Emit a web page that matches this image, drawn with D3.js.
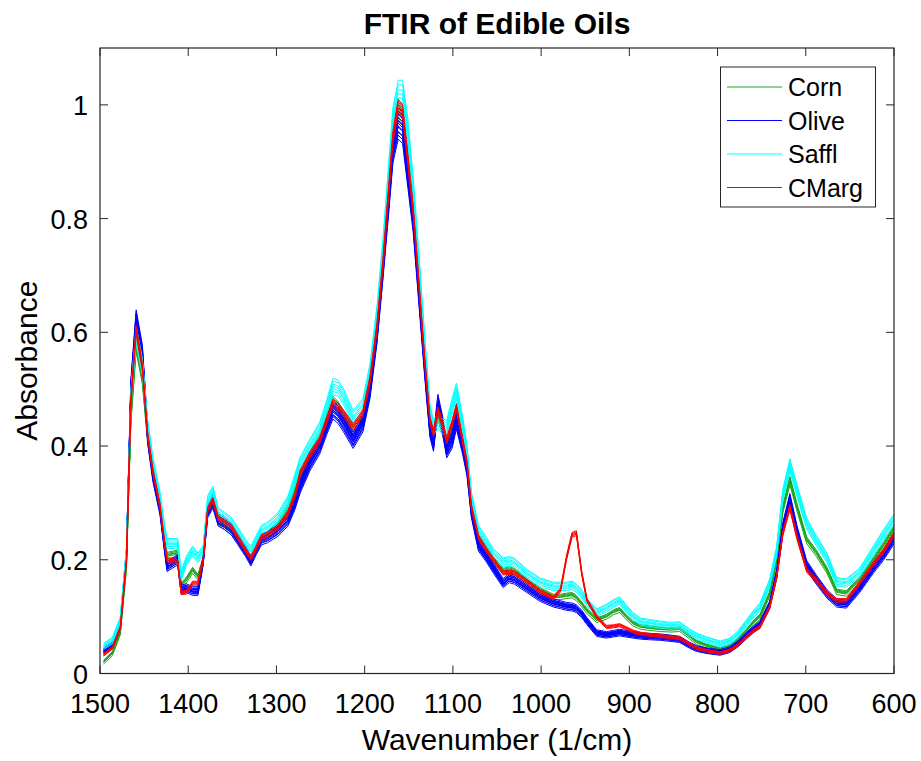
<!DOCTYPE html>
<html>
<head>
<meta charset="utf-8">
<script src="https://cdn.jsdelivr.net/npm/d3@7"></script>
<style>
  html, body { margin: 0; padding: 0; background: #fff; }
  svg { display: block; font-family: "Liberation Sans", Arial, Helvetica, sans-serif; }
</style>
</head>
<body>
<div id="chart"></div>
<script>
// FTIR spectra of edible oils, MATLAB-style line plot.
var wavenumbers = [1496, 1486, 1477, 1470, 1465, 1459, 1452, 1446, 1440, 1432, 1427, 1424, 1412, 1408, 1402, 1395,
  1389, 1383, 1378, 1372, 1366, 1359, 1351, 1344, 1335, 1329, 1323, 1317, 1310, 1298, 1287, 1279, 1273, 1262, 1251,
  1243, 1236, 1230, 1224, 1213, 1202, 1194, 1186, 1179, 1173, 1168, 1162, 1157, 1151, 1145, 1140, 1132, 1126, 1122,
  1117, 1112, 1107, 1101, 1096, 1089, 1084, 1079, 1071, 1062, 1054, 1043, 1036, 1030, 1016, 1001, 986, 978, 971, 965,
  960, 954, 948, 937, 926, 918, 911, 904, 896, 887, 877, 865, 853, 843, 832, 824, 812, 797, 786, 777, 767, 759, 752,
  741, 733, 726, 718, 710, 699, 688, 676, 665, 654, 639, 623, 612, 600];

var cornMean = [0.020, 0.035, 0.072, 0.190, 0.450, 0.578, 0.520, 0.415, 0.350, 0.290, 0.235, 0.208, 0.212, 0.155, 0.165, 0.182,
  0.170, 0.200, 0.285, 0.305, 0.268, 0.260, 0.250, 0.235, 0.215, 0.202, 0.220, 0.238, 0.245, 0.262, 0.290, 0.325, 0.350, 0.385, 0.415,
  0.450, 0.480, 0.470, 0.455, 0.428, 0.450, 0.510, 0.610, 0.730, 0.850, 0.950, 0.995, 0.985, 0.910, 0.820, 0.720, 0.560, 0.440, 0.420,
  0.455, 0.430, 0.395, 0.430, 0.460, 0.410, 0.370, 0.300, 0.240, 0.220, 0.200, 0.180, 0.183, 0.180, 0.163, 0.146, 0.135, 0.135, 0.137, 0.138,
  0.133, 0.122, 0.110, 0.094, 0.100, 0.108, 0.112, 0.100, 0.088, 0.082, 0.080, 0.078, 0.077, 0.078, 0.065, 0.055, 0.048, 0.042, 0.048, 0.058, 0.075, 0.090, 0.100,
  0.140, 0.200, 0.290, 0.340, 0.293, 0.235, 0.212, 0.182, 0.144, 0.141, 0.165, 0.200, 0.225, 0.255];

var oliveMean = [0.040, 0.050, 0.085, 0.210, 0.500, 0.620, 0.560, 0.420, 0.350, 0.290, 0.225, 0.188, 0.200, 0.148, 0.150, 0.145,
  0.145, 0.200, 0.285, 0.302, 0.270, 0.264, 0.254, 0.237, 0.215, 0.198, 0.218, 0.236, 0.240, 0.252, 0.270, 0.300, 0.330, 0.370, 0.400,
  0.435, 0.463, 0.455, 0.440, 0.410, 0.440, 0.500, 0.600, 0.720, 0.830, 0.925, 0.968, 0.960, 0.880, 0.800, 0.700, 0.540, 0.430, 0.405,
  0.475, 0.440, 0.393, 0.410, 0.445, 0.400, 0.360, 0.285, 0.225, 0.205, 0.185, 0.159, 0.168, 0.165, 0.150, 0.134, 0.124, 0.121, 0.118, 0.117,
  0.114, 0.105, 0.092, 0.071, 0.068, 0.070, 0.072, 0.070, 0.068, 0.066, 0.065, 0.064, 0.062, 0.060, 0.050, 0.044, 0.040, 0.037, 0.042, 0.052, 0.067, 0.078, 0.086,
  0.120, 0.175, 0.255, 0.305, 0.250, 0.190, 0.165, 0.140, 0.124, 0.122, 0.150, 0.186, 0.208, 0.238];

var safflMean = [0.045, 0.055, 0.090, 0.210, 0.480, 0.590, 0.535, 0.430, 0.365, 0.305, 0.250, 0.225, 0.225, 0.168, 0.195, 0.212,
  0.200, 0.213, 0.298, 0.315, 0.278, 0.270, 0.261, 0.245, 0.223, 0.212, 0.230, 0.248, 0.253, 0.270, 0.298, 0.336, 0.365, 0.396, 0.425,
  0.463, 0.500, 0.497, 0.482, 0.445, 0.465, 0.525, 0.625, 0.745, 0.865, 0.965, 1.012, 1.012, 0.945, 0.845, 0.745, 0.575, 0.455, 0.428,
  0.440, 0.430, 0.428, 0.465, 0.492, 0.435, 0.385, 0.305, 0.247, 0.227, 0.207, 0.192, 0.194, 0.191, 0.172, 0.157, 0.150, 0.150, 0.150, 0.152,
  0.147, 0.137, 0.122, 0.104, 0.112, 0.120, 0.125, 0.112, 0.098, 0.088, 0.086, 0.083, 0.081, 0.082, 0.070, 0.063, 0.056, 0.049, 0.054, 0.066, 0.086, 0.102, 0.114,
  0.155, 0.212, 0.310, 0.362, 0.318, 0.260, 0.230, 0.200, 0.158, 0.156, 0.174, 0.213, 0.240, 0.267];

var cmargMean = [0.033, 0.045, 0.080, 0.200, 0.480, 0.605, 0.540, 0.420, 0.355, 0.295, 0.232, 0.200, 0.197, 0.142, 0.143, 0.159,
  0.159, 0.200, 0.288, 0.305, 0.273, 0.267, 0.258, 0.240, 0.217, 0.203, 0.220, 0.240, 0.244, 0.258, 0.282, 0.314, 0.353, 0.385, 0.410,
  0.446, 0.476, 0.470, 0.458, 0.434, 0.458, 0.516, 0.610, 0.727, 0.845, 0.944, 1.000, 0.990, 0.903, 0.815, 0.715, 0.551, 0.446, 0.423,
  0.463, 0.440, 0.410, 0.440, 0.469, 0.410, 0.370, 0.293, 0.240, 0.217, 0.200, 0.177, 0.178, 0.177, 0.162, 0.144, 0.133, 0.147, 0.205, 0.244,
  0.247, 0.177, 0.129, 0.100, 0.082, 0.083, 0.085, 0.080, 0.074, 0.070, 0.068, 0.066, 0.064, 0.062, 0.052, 0.045, 0.040, 0.036, 0.041, 0.050, 0.065, 0.075, 0.082,
  0.117, 0.170, 0.247, 0.293, 0.240, 0.182, 0.164, 0.141, 0.129, 0.129, 0.159, 0.194, 0.215, 0.245];

// per-sample [gain, offset]
var cornSamples = [[0.985, -0.003], [0.99, 0.000], [0.995, 0.002], [1.0, 0.000], [1.005, 0.002], [1.01, 0.003]];
var oliveSamples = [[0.975, -0.004], [0.98, -0.002], [0.984, 0.000], [0.988, -0.003], [0.992, 0.001], [0.996, -0.001],
  [1.0, 0.000], [1.003, 0.002], [1.006, -0.002], [1.01, 0.001], [1.013, 0.003], [1.017, 0.000], [1.02, 0.002], [1.025, 0.004]];
var safflSamples = [[0.985, -0.002], [0.992, 0.000], [0.998, 0.002], [1.004, 0.003], [1.01, 0.004], [1.017, 0.006], [1.024, 0.007]];
var cmargSamples = [[0.99, -0.002], [0.996, -0.001], [1.0, 0.000], [1.004, 0.001], [1.008, 0.002]];

var classNames = ["Corn", "Olive", "Saffl", "CMarg"];
var classColors = ["#1ea51e", "#0000ff", "#00ffff", "#ff0000"];
var xTicks = [1500, 1400, 1300, 1200, 1100, 1000, 900, 800, 700, 600];
var yTicks = [0, 0.2, 0.4, 0.6, 0.8, 1];

(function () {
  "use strict";

  var width = 921, height = 761;
  var margin = { left: 100, right: 27, top: 48, bottom: 87.5 };
  var axisColor = "#262626";
  var tickLen = 8;

  var svg = d3.select("#chart").append("svg")
    .attr("width", width)
    .attr("height", height);

  var x = d3.scaleLinear().domain([1500, 600]).range([margin.left, width - margin.right]);
  var y = d3.scaleLinear().domain([0, 1.1]).range([height - margin.bottom, margin.top]);

  svg.append("clipPath").attr("id", "plot-clip")
    .append("rect")
    .attr("x", x(1500)).attr("y", y(1.1))
    .attr("width", x(600) - x(1500)).attr("height", y(0) - y(1.1));

  var means = [cornMean, oliveMean, safflMean, cmargMean];
  var samples = [cornSamples, oliveSamples, safflSamples, cmargSamples];

  var line = d3.line()
    .x(function (d) { return x(d[0]); })
    .y(function (d) { return y(d[1]); });

  var plot = svg.append("g").attr("clip-path", "url(#plot-clip)");

  means.forEach(function (mean, ci) {
    var g = plot.append("g")
      .attr("fill", "none")
      .attr("stroke", classColors[ci])
      .attr("stroke-width", 1);
    samples[ci].forEach(function (s) {
      var pts = wavenumbers.map(function (w, i) { return [w, mean[i] * s[0] + s[1]]; });
      g.append("path").attr("d", line(pts));
    });
  });

  // axes box with inward ticks on all four sides
  var box = svg.append("g").attr("stroke", axisColor).attr("fill", "none");
  box.append("rect")
    .attr("x", x(1500)).attr("y", y(1.1))
    .attr("width", x(600) - x(1500)).attr("height", y(0) - y(1.1))
    .attr("stroke-width", 1.2);

  xTicks.forEach(function (t) {
    box.append("line").attr("x1", x(t)).attr("x2", x(t)).attr("y1", y(0)).attr("y2", y(0) - tickLen);
    box.append("line").attr("x1", x(t)).attr("x2", x(t)).attr("y1", y(1.1)).attr("y2", y(1.1) + tickLen);
  });
  yTicks.forEach(function (t) {
    box.append("line").attr("x1", x(1500)).attr("x2", x(1500) + tickLen).attr("y1", y(t)).attr("y2", y(t));
    box.append("line").attr("x1", x(600)).attr("x2", x(600) - tickLen).attr("y1", y(t)).attr("y2", y(t));
  });

  svg.append("g").selectAll("text")
    .data(xTicks)
    .join("text")
    .attr("x", function (d) { return x(d); })
    .attr("y", 713)
    .attr("text-anchor", "middle")
    .attr("font-size", "27px")
    .attr("fill", "#000")
    .text(function (d) { return d; });

  svg.append("g").selectAll("text")
    .data(yTicks)
    .join("text")
    .attr("x", 88)
    .attr("y", function (d) { return y(d) + 10; })
    .attr("text-anchor", "end")
    .attr("font-size", "27px")
    .attr("fill", "#000")
    .text(function (d) { return d3.format("~g")(d); });

  svg.append("text")
    .attr("x", (x(1500) + x(600)) / 2)
    .attr("y", 750)
    .attr("text-anchor", "middle")
    .attr("font-size", "30px")
    .text("Wavenumber (1/cm)");

  svg.append("text")
    .attr("transform", "translate(37," + ((y(0) + y(1.1)) / 2) + ") rotate(-90)")
    .attr("text-anchor", "middle")
    .attr("font-size", "30px")
    .text("Absorbance");

  svg.append("text")
    .attr("x", (x(1500) + x(600)) / 2)
    .attr("y", 34)
    .attr("text-anchor", "middle")
    .attr("font-size", "30px")
    .attr("font-weight", "bold")
    .text("FTIR of Edible Oils");

  // legend
  var legend = svg.append("g");
  legend.append("rect")
    .attr("x", 720.5).attr("y", 67)
    .attr("width", 155).attr("height", 140)
    .attr("fill", "#fff")
    .attr("stroke", axisColor)
    .attr("stroke-width", 1);

  classNames.forEach(function (name, i) {
    var ly = 87 + i * 33.5;
    legend.append("line")
      .attr("x1", 727).attr("x2", 782)
      .attr("y1", ly).attr("y2", ly)
      .attr("stroke", classColors[i])
      .attr("stroke-width", 1);
    legend.append("text")
      .attr("x", 788).attr("y", ly + 9)
      .attr("font-size", "25px")
      .text(name);
  });
})();
</script>
</body>
</html>
